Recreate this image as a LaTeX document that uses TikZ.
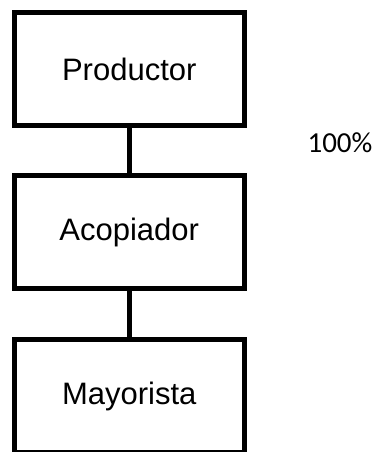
\documentclass[tikz,border=0pt]{standalone}
\usepackage{fontspec}
\setmainfont{Liberation Sans}
\newfontfamily\pctfont{Carlito}

\begin{document}
\begin{tikzpicture}[x=1pt, y=-1pt,
box/.style = {rectangle, draw, line width=#1,
            minimum width=229.5pt, minimum height=113pt,
            inner sep=0pt, font=\fontsize{31}{36}\selectfont},
box/.default = 5pt  % border width
                ]
    \useasboundingbox (0,0) rectangle (375,452);
    \def\dx{129.25};
    \foreach \y/\nm/\lbl in {69/prod/Productor, 232/acop/Acopiador, 396/mayo/Mayorista}
        \node[box] at (\dx,\y) (\nm) {\lbl};
    \node at (340,143) (pct) {\pctfont\fontsize{29}{34}\selectfont 100\%};
    \draw [black,line width=5pt] (prod) -- (acop);
    \draw [black,line width=5pt] (acop) -- (mayo);
\end{tikzpicture}
\end{document}
